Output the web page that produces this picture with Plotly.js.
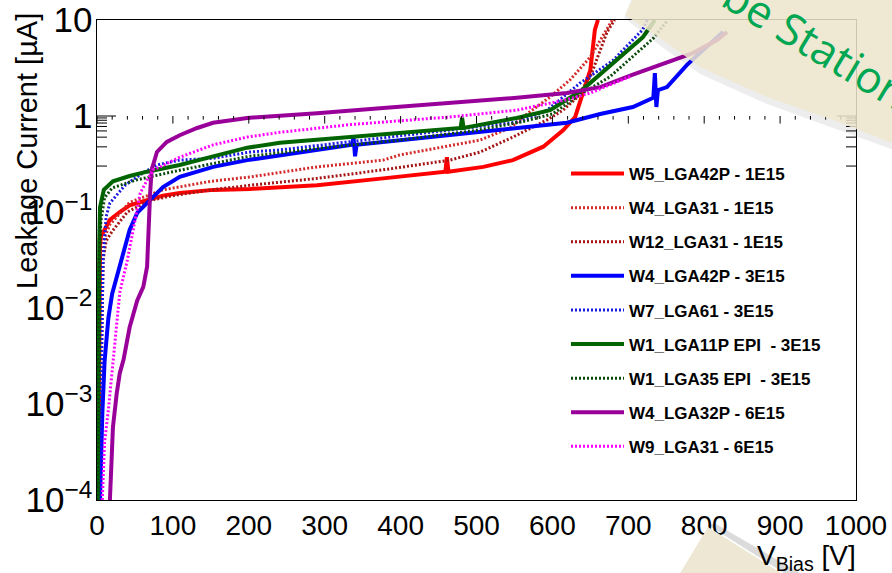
<!DOCTYPE html>
<html><head><meta charset="utf-8">
<script src="https://cdn.plot.ly/plotly-3.0.1.min.js"></script>
<style>html,body{margin:0;padding:0;background:#fff}#chart{width:892px;height:573px}</style>
</head><body><div id="chart"></div><script>
// ---- data (V_bias in V, leakage current in µA) ----
const seriesNames = ["W5_LGA42P - 1E15","W4_LGA31 - 1E15","W12_LGA31 - 1E15","W4_LGA42P - 3E15","W7_LGA61 - 3E15","W1_LGA11P EPI  - 3E15","W1_LGA35 EPI  - 3E15","W4_LGA32P - 6E15","W9_LGA31 - 6E15"];

const w5_V = [2,3,4,5,17,30,43,66,87,109,153,202,241,290,377,459,461,463,509,548,588,614,630,640,650,656,660];
const w5_I = [1.5e-4,0.01,0.045,0.055,0.083,0.1,0.117,0.133,0.148,0.158,0.17,0.174,0.182,0.19,0.224,0.263,0.372,0.263,0.295,0.347,0.479,0.708,0.977,1.66,3.02,7.94,10];

const w4a_V = [3,4,8,17,43,87,150,202,290,377,399,465,505,544,570,597,623,650,669,679];
const w4a_I = [1e-4,7.9e-3,0.05,0.074,0.126,0.17,0.209,0.232,0.295,0.347,0.393,0.49,0.562,0.75,1.1,1.58,2.37,4.12,7.5,10];

const w12_V = [5,6,8,12,20,40,70,100,150,202,290,377,465,505,548,593,614,632,650,672,682];
const w12_I = [1e-4,3.16e-3,0.0316,0.05,0.063,0.1,0.132,0.148,0.17,0.19,0.224,0.275,0.347,0.422,0.603,0.912,1.15,1.55,2.57,7.5,10];

const w4b_V = [4,5,7,10,15,20,30,43,53,66,87,109,153,198,241,290,336,338,340,342,400,465,553,619,663,706,733,735,737,739,751,777,794,817,825];
const w4b_I = [1e-4,2.5e-4,7.9e-4,2.8e-3,7.9e-3,0.0141,0.028,0.065,0.098,0.123,0.182,0.232,0.295,0.347,0.389,0.437,0.501,0.603,0.38,0.501,0.562,0.631,0.75,0.851,1.05,1.24,1.55,2.8,1.24,1.86,2.0,3.39,4.52,6.46,7.5];

const w7_V = [3,5,8,12,17,37,57,79,109,153,202,241,333,465,557,593,636,680,702,719,725];
const w7_I = [1e-4,1.58e-3,0.0316,0.089,0.124,0.19,0.245,0.309,0.347,0.363,0.422,0.443,0.537,0.715,0.871,1.15,2.19,3.8,5.75,7.94,10];

const w1a_V = [1,1.5,2,3,4,9,21,43,66,109,153,198,241,333,479,481,483,553,597,639,680,702,719,735];
const w1a_I = [1e-4,1e-3,0.01,0.05,0.112,0.17,0.209,0.237,0.263,0.309,0.38,0.468,0.525,0.603,0.75,0.955,0.75,0.955,1.15,1.86,3.55,4.9,6.6,10];

const w1b_V = [1,2,3,5,10,20,50,100,200,300,400,500,560,600,636,676,700,733,752];
const w1b_I = [1e-4,3.16e-3,0.0316,0.079,0.141,0.178,0.214,0.263,0.38,0.468,0.562,0.708,0.871,1.05,1.66,2.57,3.8,6.46,10];

const w4c_V = [17,19,21,26,30,35,43,53,61,66,67,70,72,79,92,109,132,153,198,241,290,377,465,553,619,663,706,751,785,817,830];
const w4c_I = [1e-4,2.6e-4,5.75e-4,1.29e-3,2.09e-3,2.9e-3,6.3e-3,0.012,0.0166,0.027,0.048,0.158,0.275,0.422,0.537,0.631,0.75,0.851,0.955,1.0,1.07,1.21,1.36,1.55,1.74,2.0,2.69,3.63,4.52,6.17,7.5];

const w9_V = [7,10,15,21,26,30,40,48,57,66,74,83,109,153,198,241,333,465,553,619,650,702];
const w9_I = [1e-4,4e-4,8.7e-4,2.9e-3,7.4e-3,0.0145,0.0316,0.069,0.158,0.214,0.275,0.295,0.372,0.501,0.603,0.676,0.813,0.977,1.15,1.48,1.74,2.57];

// ---- tick positions (axis decoration) ----
const xRange = [0,1000];
const yLogRange = [-4,1];
const xMajor = [0,100,200,300,400,500,600,700,800,900,1000];
const xMinor = [];
for (let v = 20; v < 1000; v += 20) if (v % 100 !== 0) xMinor.push(v);
const yMajor = [1e-4,1e-3,1e-2,1e-1,1,10];
const yMinor = [];
for (let d = -4; d <= 0; d++) for (let k = 2; k <= 9; k++) yMinor.push(k * Math.pow(10, d));

// ---- styling ----
const styles = [
  {c:"#ff0000", w:4, d:"solid"},
  {c:"#d42a2a", w:3, d:"2px,2px"},
  {c:"#a51515", w:3, d:"2px,2px"},
  {c:"#0000ff", w:4, d:"solid"},
  {c:"#1a1ae0", w:3, d:"2px,2px"},
  {c:"#006400", w:4, d:"solid"},
  {c:"#0a4a0a", w:3, d:"2px,2px"},
  {c:"#990099", w:4, d:"solid"},
  {c:"#ff00ff", w:3, d:"2px,2px"}
];
const xs = [w5_V,w4a_V,w12_V,w4b_V,w7_V,w1a_V,w1b_V,w4c_V,w9_V];
const ys = [w5_I,w4a_I,w12_I,w4b_I,w7_I,w1a_I,w1b_I,w4c_I,w9_I];

const traces = seriesNames.map((n,i)=>({
  type:"scatter", mode:"lines", name:n, x:xs[i], y:ys[i],
  legendgroup:"g"+i,
  line:{color:styles[i].c, width:styles[i].w, dash:styles[i].d}
}));

const L=97, T=20, PW=759, PH=480;
const px = x => (x-L)/PW, py = y => (T+PH-y)/PH;
const poly = pts => 'M' + pts.map(p=>px(p[0]).toFixed(4)+','+py(p[1]).toFixed(4)).join(' L') + ' Z';

// ROOT-style inward ticks on all four sides
const tickShapes = [];
const tl = () => ({color:"#000", width:1});
const decadesPerPx = (yLogRange[1] - yLogRange[0]) / PH;
function xTick(v, len) {
  const f = (v - xRange[0]) / (xRange[1] - xRange[0]);
  const dl = len * decadesPerPx;
  tickShapes.push({type:"line", xref:"paper", yref:"y", x0:f, x1:f, y0:yLogRange[0], y1:yLogRange[0]+dl, line:tl(), layer:"above"});
  tickShapes.push({type:"line", xref:"paper", yref:"y", x0:f, x1:f, y0:yLogRange[1], y1:yLogRange[1]-dl, line:tl(), layer:"above"});
}
function yTick(v, len) {
  const w = len / PW, lv = Math.log10(v);
  tickShapes.push({type:"line", xref:"paper", yref:"y", x0:0, x1:w, y0:lv, y1:lv, line:tl(), layer:"above"});
  tickShapes.push({type:"line", xref:"paper", yref:"y", x0:1, x1:1-w, y0:lv, y1:lv, line:tl(), layer:"above"});
}
xMajor.forEach(v => xTick(v, 16));
xMinor.forEach(v => xTick(v, 8));
yMajor.forEach(v => yTick(v, 19));
yMinor.forEach(v => yTick(v, 10));

const font = "Liberation Sans, Arial, Helvetica, sans-serif";
const decor = [
  {type:"path", xref:"paper", yref:"paper", layer:"above", line:{width:0}, fillcolor:"rgba(0,0,0,0.07)",
   path:poly([[633,-5],[624,18],[666,50],[700,74],[767,104],[833,128],[900,152],[900,-5]])},
  {type:"path", xref:"paper", yref:"paper", layer:"above", line:{width:0}, fillcolor:"rgba(238,231,207,0.85)",
   path:poly([[635,-5],[625,15],[667,43],[700,67],[767,97],[833,120],[900,146],[900,-5]])},
  {type:"path", xref:"paper", yref:"paper", layer:"above", line:{width:0}, fillcolor:"rgba(0,0,0,0.14)",
   path:poly([[708,525],[716,524],[812,580],[795,580]])},
  {type:"path", xref:"paper", yref:"paper", layer:"above", line:{width:0}, fillcolor:"rgb(237,231,211)",
   path:poly([[708,527],[676,580],[792,580]])}
];

const layout = {
  width:892, height:573,
  margin:{l:97, r:36, t:20, b:73, pad:0},
  paper_bgcolor:"#fff", plot_bgcolor:"#fff",
  font:{family:font, color:"#000"},
  showlegend:true,
  legend:{x:px(566), y:py(156), xanchor:"left", yanchor:"top", bgcolor:"rgba(0,0,0,0)",
          font:{family:font, size:17, weight:700, color:"#000"}, tracegroupgap:9, itemwidth:53},
  xaxis:{range:xRange, tickmode:"array", tickvals:xMajor, ticks:"",
         showline:true, mirror:true, linecolor:"#000", linewidth:1,
         showgrid:false, zeroline:false, tickfont:{family:font, size:28, color:"#000"}, ticklabelstandoff:0},
  yaxis:{type:"log", range:yLogRange, tickmode:"linear", tick0:0, dtick:1, exponentformat:"power", ticks:"",
         showline:true, mirror:true, linecolor:"#000", linewidth:1,
         showgrid:false, zeroline:false, tickfont:{family:font, size:28, color:"#000"}, ticklabelstandoff:-2},
  shapes: tickShapes.concat(decor),
  annotations:[
    {text:"Leakage Current [µA]", xref:"paper", yref:"paper", x:px(27), y:py(151), xanchor:"center", yanchor:"middle",
     textangle:-90, showarrow:false, font:{family:font, size:29, color:"#000"}},
    {text:"V<sub>Bias</sub> [V]", xref:"paper", yref:"paper", x:px(858), y:py(557), xanchor:"right", yanchor:"middle",
     showarrow:false, font:{family:font, size:28, color:"#000"}},
    {text:"Probe Station", xref:"paper", yref:"paper", x:px(786), y:py(25), xanchor:"center", yanchor:"middle",
     textangle:31, showarrow:false, font:{family:"Open Sans, Lato, sans-serif", size:44, color:"#00a651"}}
  ]
};
Plotly.newPlot("chart", traces, layout, {displayModeBar:false});
</script></body></html>
